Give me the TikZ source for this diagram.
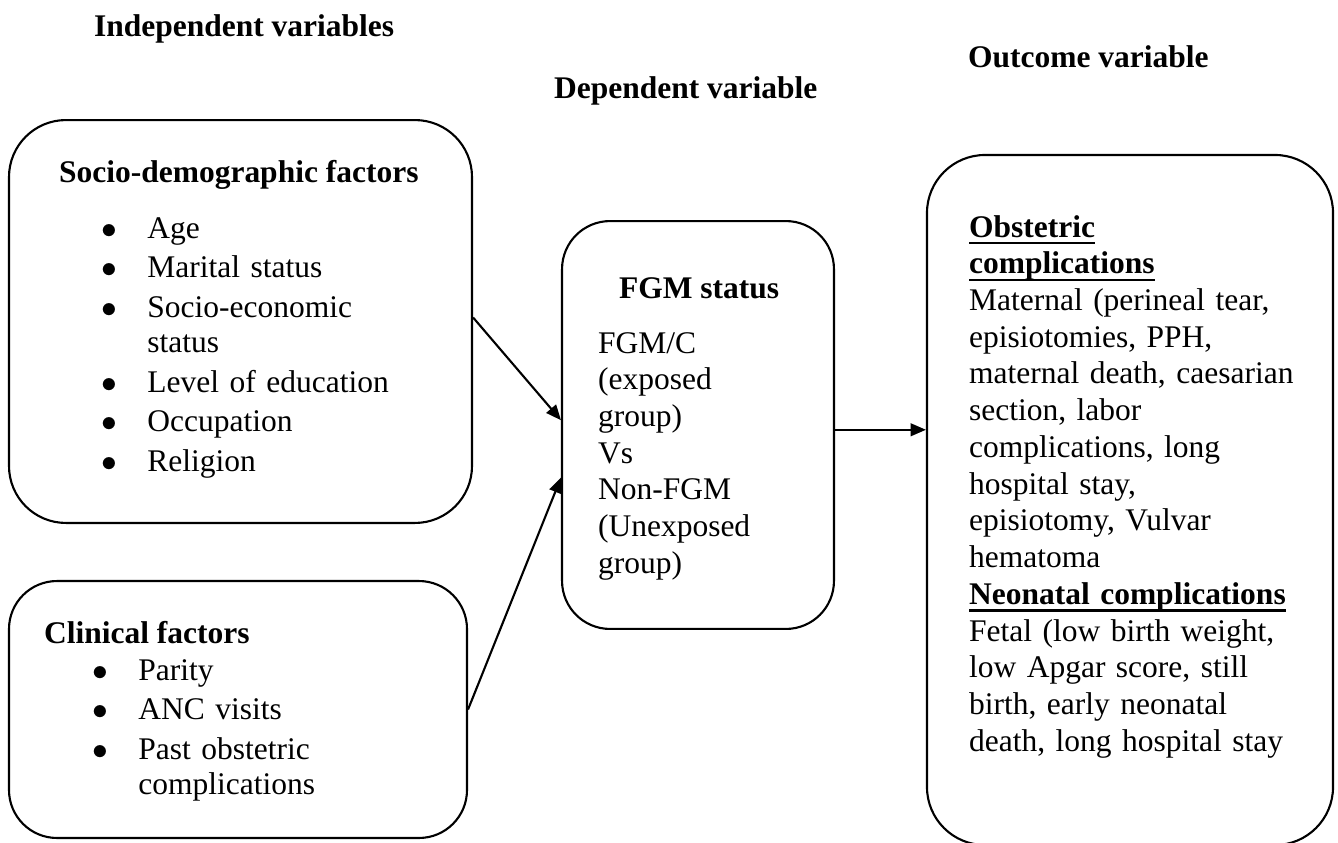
\documentclass[tikz,border=0pt]{standalone}
\usepackage{fontspec}
\setmainfont{Liberation Serif}
\usetikzlibrary{arrows.meta}
\newlength{\bltw}\setlength{\bltw}{17.5pt}
\newcommand{\blt}{\makebox[\bltw][l]{$\bullet$}}
\newcommand{\cnt}{\hspace*{\bltw}}
\newcommand{\isep}{1.7pt}
\newcommand{\ulbf}[1]{\leavevmode\setbox0\hbox{\bfseries #1}\rlap{\rule[-2.8pt]{\wd0}{0.9pt}}\box0}

\begin{document}
\begin{tikzpicture}[x=0.381pt, y=-0.381pt, line width=0.8pt,
    >={Triangle[length=5.8pt,width=4.8pt]},
    roundbox/.style={draw, inner sep=0pt},
    heading/.style={anchor=base west, inner sep=0pt, font=\fontsize{12}{14}\selectfont\bfseries},
    body/.style={anchor=base west, inner sep=0pt, align=left, font=\fontsize{12}{14}\selectfont},
    lst/.style={body, font=\fontsize{12}{13.4}\selectfont}]
  \clip (0,0) rectangle (1338,843);
  % column headings
  \node[heading] (indep) at (93, 37) {Independent variables};
  \node[heading] (dep) at (553, 98) {Dependent variable};
  \node[heading] (outh) at (967, 68) {Outcome variable};
  % boxes
  \node[roundbox, rounded corners=21.7pt, minimum width=176.4pt, minimum height=153.5pt] (socio) at (240.5, 321.5) {};
  \node[roundbox, rounded corners=18.3pt, minimum width=174.5pt, minimum height=97.9pt] (clin) at (238, 709.5) {};
  \node[roundbox, rounded corners=18.3pt, minimum width=103.6pt, minimum height=155.4pt] (fgm) at (698, 425) {};
  \node[roundbox, rounded corners=22.1pt, minimum width=154.7pt, minimum height=262.9pt] (outc) at (1130, 500) {};
  % box texts
  \node[heading] (sociot) at (58, 182) {Socio-demographic factors};
  \node[lst, text width=140pt] (sociol) at (100.5, 238) {\blt Age\\[\isep]
    \blt Marital status\\[\isep]
    \blt Socio-economic\\
    \cnt status\\[\isep]
    \blt Level of education\\[\isep]
    \blt Occupation\\[\isep]
    \blt Religion};
  \node[heading] (clint) at (43, 643) {Clinical factors};
  \node[lst, text width=140pt] (clinl) at (91.5, 680) {\blt Parity\\[\isep]
    \blt ANC visits\\[\isep]
    \blt Past obstetric\\
    \cnt complications};
  \node[heading] (fgmt) at (618, 298) {FGM status};
  \node[body, text width=90pt] (fgml) at (597, 353) {FGM/C\\
    (exposed\\
    group)\\
    Vs\\
    Non-FGM\\
    (Unexposed\\
    group)};
  \node[body, text width=140pt] (outcl) at (968, 237) {\ulbf{Obstetric}\\
    \ulbf{complications}\\
    Maternal (perineal tear,\\
    episiotomies, PPH,\\
    maternal death, caesarian\\
    section, labor\\
    complications, long\\
    hospital stay,\\
    episiotomy, Vulvar\\
    hematoma\\
    \ulbf{Neonatal complications}\\
    Fetal (low birth weight,\\
    low Apgar score, still\\
    birth, early neonatal\\
    death, long hospital stay};
  % connectors
  \draw [->] (socio.1) to (fgm.178);
  \draw [->] (clin.east) to (fgm.201);
  \draw [->] (fgm.-2) to (fgm.-2 -| outc.west);
\end{tikzpicture}
\end{document}
